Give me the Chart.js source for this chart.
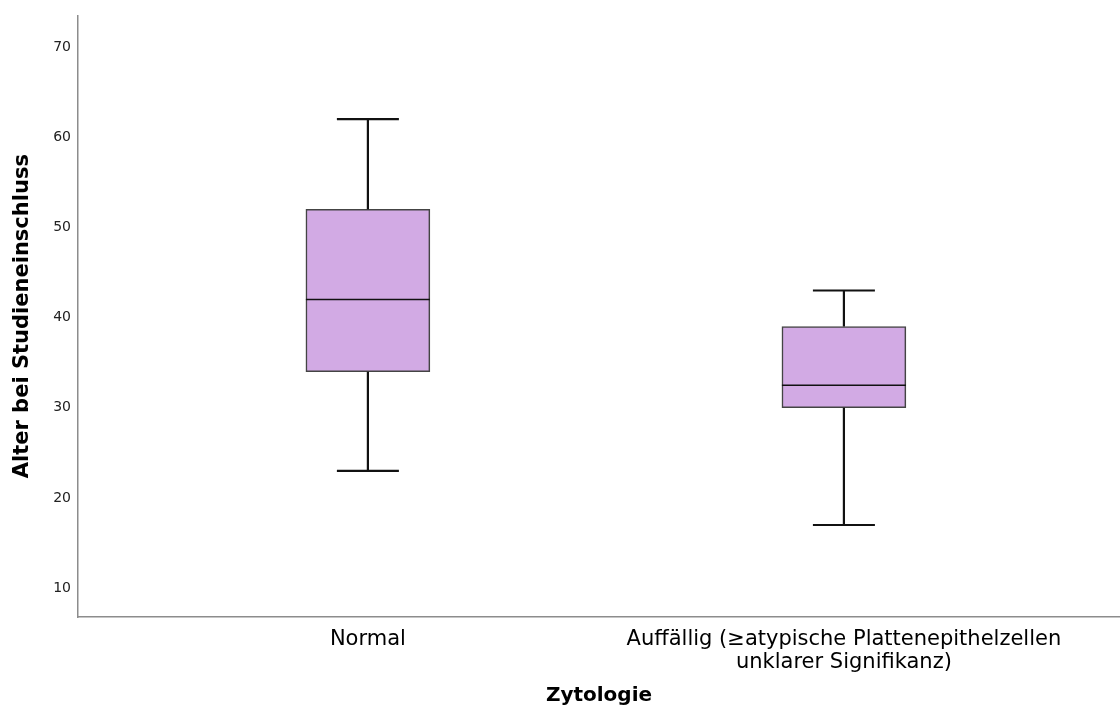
<!DOCTYPE html>
<html>
<head>
<meta charset="utf-8">
<script src="https://cdn.jsdelivr.net/npm/chart.js@4/dist/chart.umd.min.js"></script>
<style>
  html, body { margin: 0; padding: 0; background: #fff; }
  #wrap { width: 1120px; height: 720px; }
</style>
</head>
<body>
<div id="wrap"><canvas id="c" width="1120" height="720"></canvas></div>
<script>
const categories = ['Normal', ['Auffällig (≥atypische Plattenepithelzellen', 'unklarer Signifikanz)']];
const xPositions = [1, 2];
const whiskerLow = [23, 17];
const q1 = [34, 30];
const median = [42, 32.5];
const q3 = [52, 39];
const whiskerHigh = [62, 43];
const yTicks = [10, 20, 30, 40, 50, 60, 70];

const FONT = '"DejaVu Sans", sans-serif';

const whiskerPlugin = {
  id: 'whiskers',
  afterDatasetsDraw(chart) {
    const ctx = chart.ctx;
    const xs = chart.scales.x, ys = chart.scales.y;
    const meta = chart.getDatasetMeta(0);
    ctx.save();
    ctx.strokeStyle = '#111';
    xPositions.forEach((xv, i) => {
      const px = xs.getPixelForValue(xv);
      const bw = meta.data[i].width;
      const cap = bw / 4;
      const yHi = ys.getPixelForValue(whiskerHigh[i]);
      const yQ3 = ys.getPixelForValue(q3[i]);
      const yQ1 = ys.getPixelForValue(q1[i]);
      const yLo = ys.getPixelForValue(whiskerLow[i]);
      const yMed = ys.getPixelForValue(median[i]);
      ctx.lineWidth = 2.2;
      ctx.beginPath();
      ctx.moveTo(px, yHi); ctx.lineTo(px, yQ3);
      ctx.moveTo(px, yQ1); ctx.lineTo(px, yLo);
      ctx.moveTo(px - cap, yHi); ctx.lineTo(px + cap, yHi);
      ctx.moveTo(px - cap, yLo); ctx.lineTo(px + cap, yLo);
      ctx.stroke();
      ctx.lineWidth = 1.6;
      ctx.beginPath();
      ctx.moveTo(px - bw / 2, yMed); ctx.lineTo(px + bw / 2, yMed);
      ctx.stroke();
    });
    ctx.restore();
  }
};

new Chart(document.getElementById('c'), {
  type: 'bar',
  data: {
    datasets: [{
      data: xPositions.map((x, i) => ({ x: x, y: [q1[i], q3[i]] })),
      backgroundColor: '#d2aae4',
      borderColor: '#444',
      borderWidth: 1.6,
      borderSkipped: false,
      barThickness: 124
    }]
  },
  options: {
    responsive: false,
    animation: false,
    layout: { padding: { top: 13, right: 0, left: 0, bottom: 0 } },
    plugins: { legend: { display: false }, tooltip: { enabled: false } },
    scales: {
      x: {
        type: 'linear',
        offset: false,
        min: 0.391,
        max: 2.58,
        grid: { display: false, drawTicks: false },
        border: { display: true, color: '#8c8c8c', width: 1.5 },
        afterBuildTicks(scale) { scale.ticks = xPositions.map(v => ({ value: v })); },
        afterFit(scale) { scale.height = 103; },
        ticks: {
          autoSkip: false, maxRotation: 0, minRotation: 0,
          padding: 11,
          color: '#000',
          font: { family: FONT, size: 21, lineHeight: 1.1 },
          callback(v) { const i = xPositions.indexOf(v); return i >= 0 ? categories[i] : ''; }
        },
        title: {
          display: true, text: 'Zytologie', color: '#000',
          font: { family: FONT, size: 20, weight: 'bold' },
          padding: { top: 0, bottom: 12 }
        }
      },
      y: {
        min: 6.8,
        max: 73.5,
        grid: { display: false, drawTicks: false },
        border: { display: true, color: '#8c8c8c', width: 1.5 },
        afterBuildTicks(scale) { scale.ticks = yTicks.map(v => ({ value: v })); },
        afterFit(scale) { scale.width = 78; },
        ticks: {
          padding: 7,
          color: '#222',
          font: { family: FONT, size: 14 }
        },
        title: {
          display: true, text: 'Alter bei Studieneinschluss', color: '#000',
          font: { family: FONT, size: 21, weight: 'bold' },
          padding: { top: 10, bottom: 0 }
        }
      }
    }
  },
  plugins: [whiskerPlugin]
});
</script>
</body>
</html>
